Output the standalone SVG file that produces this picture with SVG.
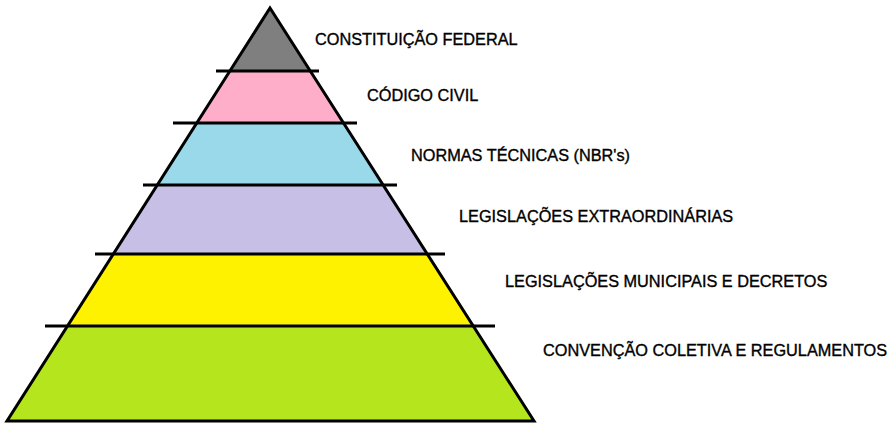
<svg xmlns="http://www.w3.org/2000/svg" width="895" height="440" viewBox="0 0 895 440">
<style>
.lbl{font-family:"Liberation Sans",Arial,sans-serif;font-size:16.3px;fill:#000;stroke:#000;stroke-width:0.35}
.ln{stroke:#000;stroke-width:3;fill:none}
</style>
<rect width="895" height="440" fill="#fff"/>
<g id="layer1">
<polygon points="270,8 310.3,71 229.9,71" fill="#7f7f7f"/>
<text class="lbl" x="315" y="45">CONSTITUIÇÃO FEDERAL</text>
</g>
<g id="layer2">
<polygon points="229.9,71 310.3,71 343.5,123 196.8,123" fill="#ffaec9"/>
<text class="lbl" x="367" y="101">CÓDIGO CIVIL</text>
</g>
<g id="layer3">
<polygon points="196.8,123 343.5,123 383.1,185 157.3,185" fill="#99d9ea"/>
<text class="lbl" x="411" y="161">NORMAS TÉCNICAS (NBR's)</text>
</g>
<g id="layer4">
<polygon points="157.3,185 383.1,185 427.2,254 113.3,254" fill="#c8bfe7"/>
<text class="lbl" x="459" y="222">LEGISLAÇÕES EXTRAORDINÁRIAS</text>
</g>
<g id="layer5">
<polygon points="113.3,254 427.2,254 473.3,326 67.5,326" fill="#fff200"/>
<text class="lbl" x="505" y="287">LEGISLAÇÕES MUNICIPAIS E DECRETOS</text>
</g>
<g id="layer6">
<polygon points="67.5,326 473.3,326 534,421 7,421" fill="#b5e61d"/>
<text class="lbl" x="543" y="356">CONVENÇÃO COLETIVA E REGULAMENTOS</text>
</g>
<g id="lines">
<polygon class="ln" points="270,8 534,421 7,421" stroke-linejoin="miter"/>
<line class="ln" x1="216" y1="71" x2="319" y2="71"/>
<line class="ln" x1="173" y1="123" x2="357" y2="123"/>
<line class="ln" x1="143" y1="185" x2="397" y2="185"/>
<line class="ln" x1="95" y1="254" x2="445" y2="254"/>
<line class="ln" x1="45" y1="326" x2="495" y2="326"/>
</g>
</svg>
